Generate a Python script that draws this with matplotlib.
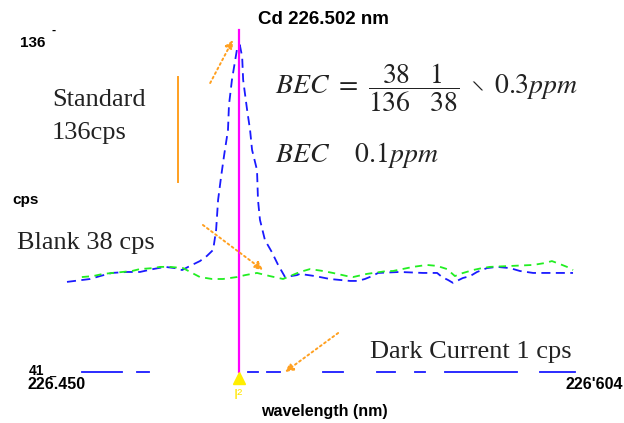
import matplotlib.pyplot as plt

# blue trace: standard (cps vs wavelength)
std_wl = [226.4500, 226.4570, 226.4600, 226.4636, 226.4682, 226.4721, 226.4761, 226.4797,
          226.4827, 226.4849, 226.4873, 226.4903, 226.4924, 226.4943, 226.4952, 226.4958,
          226.4967, 226.4976, 226.4988, 226.4991, 226.5000, 226.5015, 226.5024, 226.5031,
          226.5034, 226.5046, 226.5055, 226.5061, 226.5076, 226.5079, 226.5085, 226.5100,
          226.5121, 226.5140, 226.5161, 226.5197, 226.5206, 226.5252, 226.5297, 226.5358,
          226.5382, 226.5403, 226.5425, 226.5443, 226.5509, 226.5579, 226.5622, 226.5637,
          226.5655, 226.5670, 226.5682, 226.5700, 226.5722, 226.5743, 226.5773, 226.5803,
          226.5843, 226.5873, 226.5913, 226.6034]
std_cps = [38.2, 39.4, 40.6, 41.9, 42.3, 42.3, 43.5, 44.4,
           43.9, 43.1, 44.8, 46.8, 48.9, 51.4, 59.6, 72.0,
           81.5, 90.2, 100.9, 111.2, 121.6, 134.0, 136.0, 131.1,
           121.6, 109.2, 100.9, 92.7, 84.4, 72.0, 63.8, 55.5,
           50.5, 45.2, 40.2, 41.0, 41.5, 40.6, 39.4, 38.6,
           38.6, 39.4, 40.6, 41.9, 42.3, 41.9, 41.9, 40.2,
           39.0, 37.8, 38.6, 39.8, 40.6, 42.3, 43.9, 44.4,
           43.9, 42.7, 41.9, 41.9]

# green trace: blank
blk_wl = [226.4545, 226.4579, 226.4609, 226.4639, 226.4697, 226.4721, 226.4761, 226.4782,
          226.4812, 226.4852, 226.4879, 226.4903, 226.4940, 226.4973, 226.5015, 226.5040,
          226.5076, 226.5115, 226.5155, 226.5206, 226.5237, 226.5276, 226.5306, 226.5349,
          226.5367, 226.5409, 226.5470, 226.5488, 226.5549, 226.5591, 226.5622, 226.5652,
          226.5676, 226.5691, 226.5731, 226.5758, 226.5782, 226.5913, 226.5949, 226.5970,
          226.6001, 226.6025, 226.6034]
blk_cps = [40.2, 40.6, 41.5, 41.9, 42.7, 43.5, 43.9, 44.4,
           44.4, 43.9, 41.9, 40.2, 39.4, 39.4, 40.2, 41.0,
           41.9, 40.6, 39.4, 42.3, 43.5, 42.7, 41.9, 40.6,
           40.2, 41.5, 42.7, 42.7, 44.4, 45.2, 44.8, 43.5,
           40.6, 41.5, 43.1, 43.9, 44.4, 45.2, 46.0, 46.8,
           45.2, 43.9, 43.1]

# dark current trace (1 cps), drawn as the visible pieces
dark_cps = 1.0
dark_pieces = [(226.4545, 226.4667), (226.4712, 226.4749), (226.5049, 226.5079),
               (226.5106, 226.5146), (226.5276, 226.5337), (226.5440, 226.5494),
               (226.5555, 226.5585), (226.5646, 226.5864), (226.5934, 226.6040)]

cd_line = 226.502

# pixel -> data mapping of the frame
wl0, px0, nm_per_px = 226.450, 67, 0.154 / 508
py1, px_per_cps = 372, 2.422
W, H = 624, 423

plt.rcParams['mathtext.fontset'] = 'stix'

fig = plt.figure(figsize=(6.24, 4.23), dpi=100)
ax = fig.add_axes([0, 0, 1, 1])
ax.set_xlim(wl0 - px0 * nm_per_px, wl0 + (W - px0) * nm_per_px)
ax.set_ylim(1 + (py1 - H) / px_per_cps, 1 + py1 / px_per_cps)
ax.axis('off')


def ftxt(x, y, s, **kw):
    fig.text(x / W, 1 - y / H, s, **kw)


ax.plot([cd_line, cd_line], [dark_cps, 142.2], color='#ff00ff', lw=1.6, zorder=3)
ax.plot(std_wl, std_cps, color='#1a1aff', lw=1.3, ls=(0, (5, 3)), zorder=2)
ax.plot(blk_wl, blk_cps, color='#22ee22', lw=1.3, ls=(0, (4, 3)), zorder=2)
for a, b in dark_pieces:
    ax.plot([a, b], [dark_cps, dark_cps], color='#1a1aff', lw=1.3)

ax.plot([cd_line], [-1.6], marker='^', color='#ffee00', ms=8, zorder=4)
ftxt(238, 395, 'I²', color='#ffe600', fontsize=11, ha='center', va='center',
     fontfamily='Liberation Sans')

# orange annotations
ax.plot([226.4837, 226.4837], [79.4, 122.8], color='#ffa020', lw=1.4)
arrows = [((226.4934, 120.3), (226.5003, 138.1)),
          ((226.4912, 61.7), (226.5094, 43.1)),
          ((226.5322, 17.1), (226.5161, 1.0))]
for tail, head in arrows:
    ax.annotate('', xy=head, xytext=tail,
                arrowprops=dict(arrowstyle='-|>', color='#ffa020', ls=':', lw=1.4,
                                mutation_scale=12, shrinkA=0, shrinkB=0))

# axis labels
bold = dict(fontfamily='Liberation Sans', fontweight='bold', color='black')
ftxt(323, 19, 'Cd 226.502 nm', fontsize=13.5, ha='center', va='center', **bold)
ftxt(20, 43, '136', fontsize=11, ha='left', va='center', **bold)
ftxt(51, 31, '-', fontsize=9, ha='left', va='center', **bold)
ftxt(12, 200, 'cps', fontsize=11, ha='left', va='center', **bold)
ftxt(29, 371, '41', fontsize=10, ha='left', va='center', **bold)
ftxt(49, 373, '_', fontsize=8, ha='left', va='center', **bold)
ftxt(27, 384, '226.450', fontsize=11.5, ha='left', va='center', **bold)
ftxt(623, 384, "226'604", fontsize=11.5, ha='right', va='center', **bold)
ftxt(324, 411, 'wavelength (nm)', fontsize=11.5, ha='center', va='center', **bold)

serif = dict(fontfamily='Liberation Serif', color='#222222')
ftxt(52, 100, 'Standard', fontsize=19, ha='left', va='center', **serif)
ftxt(52, 133, '136cps', fontsize=19, ha='left', va='center', **serif)
ftxt(17, 243, 'Blank 38 cps', fontsize=19, ha='left', va='center', **serif)
ftxt(370, 352, 'Dark Current 1 cps', fontsize=19, ha='left', va='center', **serif)

ftxt(275, 88, r'$BEC\ =\ \dfrac{38\quad 1}{136\quad 38}\ \setminus\ 0.3ppm$', fontsize=20,
     ha='left', va='center', color='#222222')
ftxt(275, 155, r'$BEC\quad\ 0.1ppm$', fontsize=20, ha='left', va='center', color='#222222')

fig.savefig('out.png', dpi=100, facecolor='white')
